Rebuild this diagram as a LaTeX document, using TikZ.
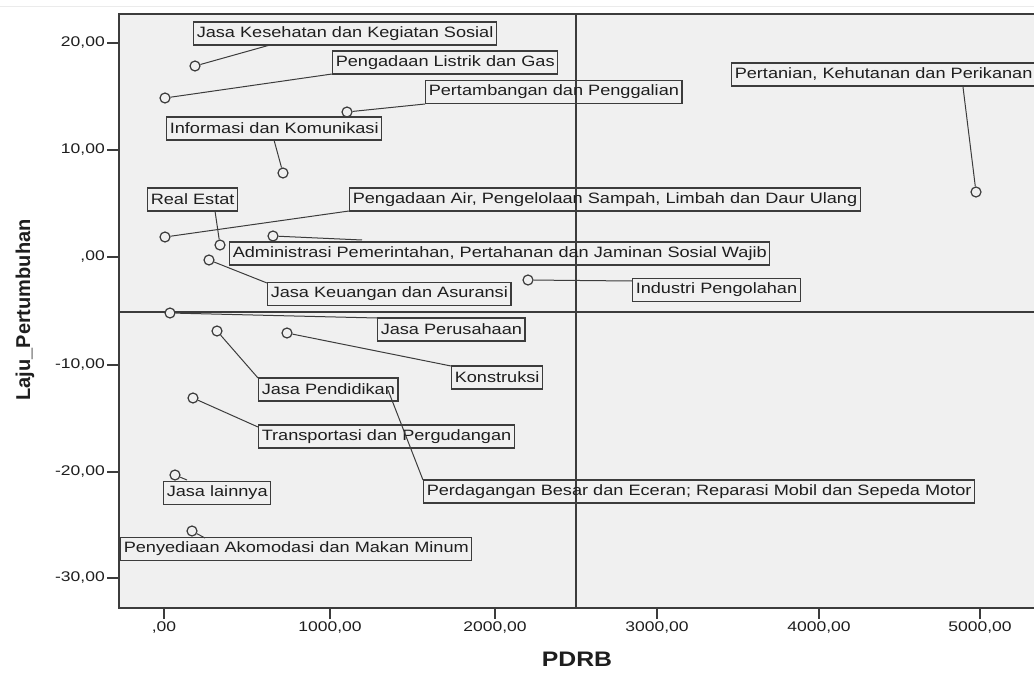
\documentclass[tikz,border=0pt]{standalone}
\usepackage{fontspec}
\setmainfont{Liberation Sans}
\definecolor{bg}{HTML}{F0F0F0}
\definecolor{ink}{HTML}{3C3C3C}
\definecolor{txt}{HTML}{1E1E1E}
\begin{document}
\begin{tikzpicture}[x=1pt,y=-1pt,
  lbl/.style={draw=ink, line width=1.2pt, text=txt, font=\fontsize{15}{17}\selectfont, xscale=1.21, inner xsep=2.5pt, inner ysep=0pt, minimum height=23pt, anchor=west},
  pt/.style={circle, draw=ink, fill=bg, line width=1.2pt, minimum size=10pt, inner sep=0pt},
  lead/.style={draw=ink, line width=1pt},
  ticklbl/.style={font=\fontsize{14}{16}\selectfont, xscale=1.25, text=txt, inner sep=0pt},
  axisline/.style={draw=ink, line width=1.5pt},
]
\useasboundingbox (0,0) rectangle (1034,682);
\fill[white] (0,0) rectangle (1034,682);
\draw[black!8, line width=1pt] (0,6.5) -- (1034,6.5);
\fill[bg] (119,14) rectangle (1034,608);

% reference lines
\draw[axisline] (576,14) -- (576,608);
\draw[axisline] (119,312) -- (1034,312);

% frame
\draw[axisline] (1034,14) -- (119,14) -- (119,608) -- (1034,608);

% y ticks
\foreach \yy/\lab/\nm in {43/{20,00}/ya, 150/{10,00}/yb, 257/{,00}/yc, 365/{-10,00}/yd, 472/{-20,00}/ye, 578/{-30,00}/yf}{
  \draw[axisline] (107,\yy) -- (119,\yy);
  \node[ticklbl, anchor=east] (\nm) at (105,\yy) {\lab};
}
% x ticks
\foreach \xx/\lab/\nm in {164/{,00}/xa, 330/{1000,00}/xb, 495/{2000,00}/xc, 657/{3000,00}/xd, 819/{4000,00}/xe, 980/{5000,00}/xf}{
  \draw[axisline] (\xx,608) -- (\xx,619);
  \node[ticklbl] (\nm) at (\xx,628) {\lab};
}

% axis titles
\node[font=\bfseries\fontsize{20}{22}\selectfont, rotate=90, text=txt] (ytitle) at (25,310) {Laju\_Pertumbuhan};
\node[font=\bfseries\fontsize{21}{24}\selectfont, xscale=1.18, text=txt] (xtitle) at (577,659) {PDRB};

% points
\node[pt] (p1) at (195,66) {};
\node[pt] (p2) at (165,98) {};
\node[pt] (p3) at (347,112) {};
\node[pt] (p4) at (283,173) {};
\node[pt] (p5) at (220,245) {};
\node[pt] (p6) at (165,237) {};
\node[pt] (p7) at (273,236) {};
\node[pt] (p8) at (209,260) {};
\node[pt] (p9) at (528,280) {};
\node[pt] (p10) at (170,313) {};
\node[pt] (p11) at (287,333) {};
\node[pt] (p12) at (217,331) {};
\node[pt] (p13) at (193,398) {};
\coordinate (p14) at (388,390);
\node[pt] (p15) at (175,475) {};
\node[pt] (p16) at (192,531) {};
\node[pt] (p17) at (976,192) {};

% labels
\node[lbl] (l1) at (193,33.5) {Jasa Kesehatan dan Kegiatan Sosial};
\node[lbl] (l2) at (332,62.5) {Pengadaan Listrik dan Gas};
\node[lbl] (l3) at (425,92) {Pertambangan dan Penggalian};
\node[lbl] (l4) at (166,128.5) {Informasi dan Komunikasi};
\node[lbl] (l5) at (147,199.5) {Real Estat};
\node[lbl] (l6) at (349,199.5) {Pengadaan Air, Pengelolaan Sampah, Limbah dan Daur Ulang};
\node[lbl] (l7) at (229,253.5) {Administrasi Pemerintahan, Pertahanan dan Jaminan Sosial Wajib};
\node[lbl] (l8) at (267,294) {Jasa Keuangan dan Asuransi};
\node[lbl] (l9) at (632,290) {Industri Pengolahan};
\node[lbl] (l10) at (377,329.5) {Jasa Perusahaan};
\node[lbl] (l11) at (451,377.5) {Konstruksi};
\node[lbl] (l12) at (258,389.5) {Jasa Pendidikan};
\node[lbl] (l13) at (258,436.5) {Transportasi dan Pergudangan};
\node[lbl] (l14) at (423,491.5) {Perdagangan Besar dan Eceran; Reparasi Mobil dan Sepeda Motor};
\node[lbl] (l15) at (163,493) {Jasa lainnya};
\node[lbl] (l16) at (120,549) {Penyediaan Akomodasi dan Makan Minum};
\node[lbl] (l17) at (731,74.5) {Pertanian, Kehutanan dan Perikanan};

% leader ends
\coordinate (e1) at (270,45);
\coordinate (e2) at (332,74);
\coordinate (e3) at (425,104);
\coordinate (e4) at (274,140);
\coordinate (e5) at (215,211);
\coordinate (e6) at (349,211);
\coordinate (e7) at (362,240);
\coordinate (e8) at (267,283);
\coordinate (e9) at (632,281);
\coordinate (e10) at (377,318);
\coordinate (e11) at (451,366);
\coordinate (e12) at (258,378);
\coordinate (e13) at (258,427);
\coordinate (e14) at (423,480);
\coordinate (e15) at (187,480);
\coordinate (e16) at (205,538);
\coordinate (e17) at (963,87);

\foreach \i in {1,...,17}{
  \draw[lead] (p\i) -- (e\i);
}
\end{tikzpicture}
\end{document}
